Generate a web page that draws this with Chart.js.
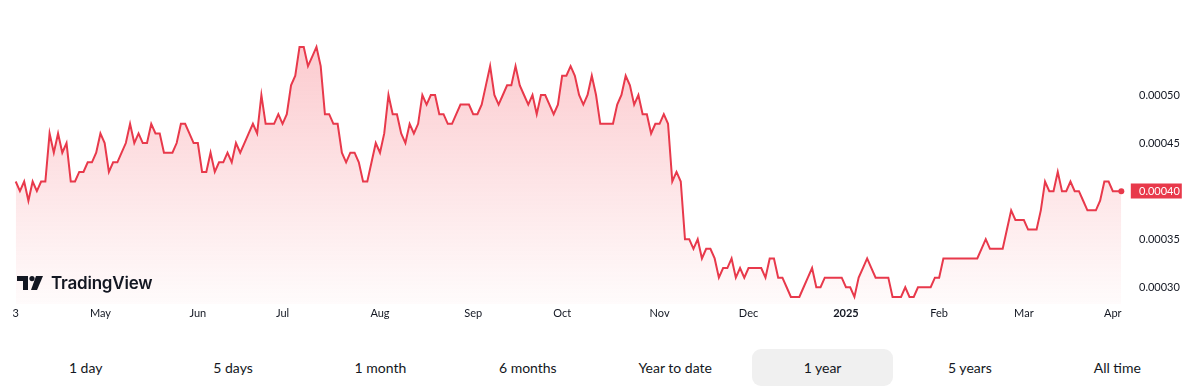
<!DOCTYPE html>
<html>
<head>
<meta charset="utf-8">
<script src="https://cdn.jsdelivr.net/npm/chart.js@4.4.0/dist/chart.umd.min.js"></script>
<style>
  body { margin: 0; background: #fff; }
  #wrap { position: relative; width: 1200px; height: 330px; }
  #logo { position: absolute; left: 17px; top: 273px; display: flex; align-items: center; }
  #logo span { font-family: Inter, sans-serif; font-weight: 600; font-size: 17px; color: #131722; margin-left: 8px; letter-spacing: -0.2px; }
  #ranges { display: flex; margin: 14px 0 0 12px; width: 1179px; height: 46px; align-items: center; }
  #ranges div { flex: 1; text-align: center; font-family: Lato, sans-serif; font-size: 14px; color: #131722; height: 37px; line-height: 37px; margin: 0 3.5px; border-radius: 9px; }
  #ranges div.on { background: #f0f0f0; }
</style>
</head>
<body>
<div id="wrap">
  <canvas id="price" width="1200" height="330"></canvas>
  <div id="logo">
    <svg width="26" height="14" viewBox="0 0 26 14">
      <path d="M0 0H11V14H6V5H0Z" fill="#131722"/>
      <circle cx="15" cy="2.6" r="2.6" fill="#131722"/>
      <path d="M19 0H26L20 14H14Z" fill="#131722"/>
    </svg>
    <span>TradingView</span>
  </div>
</div>
<div id="ranges">
  <div>1 day</div><div>5 days</div><div>1 month</div><div>6 months</div>
  <div>Year to date</div><div class="on">1 year</div><div>5 years</div><div>All time</div>
</div>
<script>
// daily closes, Apr 3 2024 -> Apr 3 2025 (trading days)
var prices = [
  0.00041, 0.00040, 0.00041, 0.00039, 0.00041, 0.00040, 0.00041, 0.00041, 0.00046, 0.00044,
  0.00046, 0.00044, 0.00045, 0.00041, 0.00041, 0.00042, 0.00042, 0.00043, 0.00043, 0.00044,
  0.00046, 0.00045, 0.00042, 0.00043, 0.00043, 0.00044, 0.00045, 0.00047, 0.00045, 0.00046,
  0.00045, 0.00045, 0.00047, 0.00046, 0.00046, 0.00044, 0.00044, 0.00044, 0.00045, 0.00047,
  0.00047, 0.00046, 0.00045, 0.00045, 0.00042, 0.00042, 0.00044, 0.00042, 0.00043, 0.00043,
  0.00044, 0.00043, 0.00045, 0.00044, 0.00045, 0.00046, 0.00047, 0.00046, 0.00050, 0.00047,
  0.00047, 0.00047, 0.00048, 0.00047, 0.00048, 0.00051, 0.00052, 0.00055, 0.00055, 0.00053,
  0.00054, 0.00055, 0.00053, 0.00048, 0.00048, 0.00047, 0.00047, 0.00044, 0.00043, 0.00044,
  0.00044, 0.00043, 0.00041, 0.00041, 0.00043, 0.00045, 0.00044, 0.00046, 0.00050, 0.00048,
  0.00048, 0.00046, 0.00045, 0.00047, 0.00046, 0.00047, 0.00050, 0.00049, 0.00050, 0.00050,
  0.00048, 0.00048, 0.00047, 0.00047, 0.00048, 0.00049, 0.00049, 0.00049, 0.00048, 0.00048,
  0.00049, 0.00051, 0.00053, 0.00050, 0.00049, 0.00050, 0.00051, 0.00051, 0.00053, 0.00051,
  0.00050, 0.00049, 0.00050, 0.00048, 0.00050, 0.00050, 0.00049, 0.00048, 0.00049, 0.00052,
  0.00052, 0.00053, 0.00052, 0.00050, 0.00049, 0.00050, 0.00052, 0.00050, 0.00047, 0.00047,
  0.00047, 0.00047, 0.00049, 0.00050, 0.00052, 0.00051, 0.00049, 0.00050, 0.00048, 0.00048,
  0.00046, 0.00047, 0.00047, 0.00048, 0.00047, 0.00041, 0.00042, 0.00041, 0.00035, 0.00035,
  0.00034, 0.00035, 0.00033, 0.00034, 0.00034, 0.00033, 0.00031, 0.00032, 0.00032, 0.00033,
  0.00031, 0.00032, 0.00031, 0.00032, 0.00032, 0.00032, 0.00032, 0.00031, 0.00033, 0.00033,
  0.00031, 0.00031, 0.00030, 0.00029, 0.00029, 0.00029, 0.00030, 0.00031, 0.00032, 0.00030,
  0.00030, 0.00031, 0.00031, 0.00031, 0.00031, 0.00031, 0.00030, 0.00030, 0.00029, 0.00031,
  0.00032, 0.00033, 0.00032, 0.00031, 0.00031, 0.00031, 0.00031, 0.00029, 0.00029, 0.00029,
  0.00030, 0.00029, 0.00029, 0.00030, 0.00030, 0.00030, 0.00030, 0.00031, 0.00031, 0.00033,
  0.00033, 0.00033, 0.00033, 0.00033, 0.00033, 0.00033, 0.00033, 0.00033, 0.00034, 0.00035,
  0.00034, 0.00034, 0.00034, 0.00034, 0.00036, 0.00038, 0.00037, 0.00037, 0.00037, 0.00036,
  0.00036, 0.00036, 0.00038, 0.00041, 0.00040, 0.00040, 0.00042, 0.00040, 0.00040, 0.00041,
  0.00040, 0.00040, 0.00039, 0.00038, 0.00038, 0.00038, 0.00039, 0.00041, 0.00041, 0.00040,
  0.00040, 0.00040
];

// time axis labels: bar index -> text
var tickIndex = [0, 20, 43, 63, 86, 108, 129, 152, 173, 196, 218, 238, 259];
var tickText = ['3', 'May', 'Jun', 'Jul', 'Aug', 'Sep', 'Oct', 'Nov', 'Dec', '2025', 'Feb', 'Mar', 'Apr'];

var priceTicks = [0.00030, 0.00035, 0.00040, 0.00045, 0.00050];

var red = '#e8394b';
var labels = prices.map(function (p, i) { return i; });

// price scale labels + last price badge
var priceScale = {
    id: 'priceScale',
    afterDraw: function (chart)
    {
        var ctx = chart.ctx;
        var sy = chart.scales.y;
        var tx = chart.chartArea.right + 17.7;
        ctx.save();
        ctx.font = '11px Lato, sans-serif';
        ctx.textBaseline = 'middle';
        ctx.fillStyle = '#131722';
        priceTicks.forEach(function (v)
        {
            ctx.fillText(v.toFixed(5), tx, Math.round(sy.getPixelForValue(v)) + 0.5);
        });

        var last = prices[prices.length - 1];
        var y = Math.round(sy.getPixelForValue(last));
        ctx.fillStyle = red;
        ctx.fillRect(chart.chartArea.right + 9.5, y - 7.5, 51, 15);
        ctx.fillStyle = '#fff';
        ctx.fillText(last.toFixed(5), tx, y + 0.5);
        ctx.restore();
    }
};

new Chart(document.getElementById('price'),
{
    type: 'line',
    data:
    {
        labels: labels,
        datasets: [
            {
                data: prices,
                borderColor: red,
                borderWidth: 2,
                tension: 0,
                fill: 'start',
                pointRadius: function (c) { return c.dataIndex === prices.length - 1 ? 3 : 0; },
                pointBackgroundColor: red,
                pointBorderWidth: 0,
                backgroundColor: function (c)
                {
                    var area = c.chart.chartArea;
                    if (!area) return 'rgba(242,54,69,0.15)';
                    var g = c.chart.ctx.createLinearGradient(0, area.top, 0, area.bottom);
                    g.addColorStop(0, 'rgba(242,54,69,0.30)');
                    g.addColorStop(1, 'rgba(242,54,69,0.02)');
                    return g;
                }
            }
        ]
    },
    options:
    {
        responsive: false,
        animation: false,
        devicePixelRatio: 1,
        layout: { autoPadding: false, padding: { left: 15.7, top: 0, right: 0, bottom: 0 } },
        plugins: { legend: { display: false }, tooltip: { enabled: false } },
        scales:
        {
            x:
            {
                type: 'category',
                offset: false,
                grid: { display: false, drawTicks: false },
                border: { display: false },
                afterFit: function (s) { s.height = 26; },
                ticks:
                {
                    autoSkip: false,
                    maxRotation: 0,
                    minRotation: 0,
                    padding: 3,
                    color: '#131722',
                    font: function (c)
                    {
                        var bold = c.tick && c.tick.label === '2025';
                        return { family: 'Lato', size: 11, weight: bold ? 'bold' : 'normal' };
                    },
                    callback: function (v, i)
                    {
                        var k = tickIndex.indexOf(i);
                        return k < 0 ? '' : tickText[k];
                    }
                }
            },
            y:
            {
                position: 'right',
                min: 0.0002826,
                max: 0.0005988,
                grid: { display: false, drawTicks: false },
                border: { display: false },
                ticks: { display: false },
                afterFit: function (s) { s.width = 78.7; }
            }
        }
    },
    plugins: [priceScale]
});
</script>
</body>
</html>
